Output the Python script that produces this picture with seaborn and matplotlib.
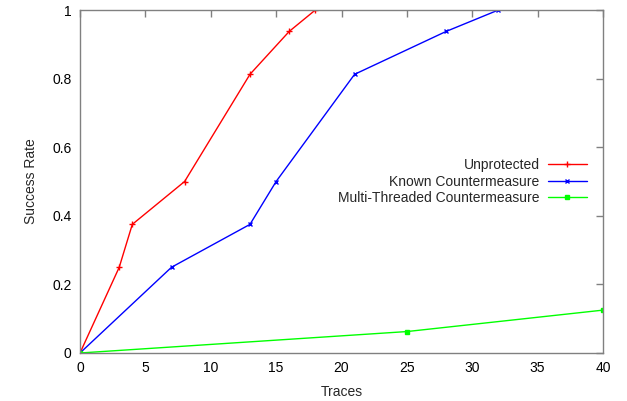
import numpy as np
import pandas as pd
import matplotlib
matplotlib.use("Agg")
import matplotlib.pyplot as plt
import seaborn as sns

# Data
unprot_x = [0, 3, 4, 8, 13, 16, 18]
unprot_y = [0, 0.25, 0.375, 0.5, 0.8125, 0.9375, 1.0]
known_x = [0, 7, 13, 15, 21, 28, 32]
known_y = [0, 0.25, 0.375, 0.5, 0.8125, 0.9375, 1.0]
multi_x = [0, 25, 40]
multi_y = [0, 0.0625, 0.125]
series_names = ["Unprotected", "Known Countermeasure", "Multi-Threaded Countermeasure"]
x_ticks = [0, 5, 10, 15, 20, 25, 30, 35, 40]
y_ticks = [0, 0.2, 0.4, 0.6, 0.8, 1.0]
y_tick_labels = ["0", "0.2", "0.4", "0.6", "0.8", "1"]

sns.set_style("white")
plt.rcParams["font.family"] = ["Liberation Sans", "DejaVu Sans"]

df = pd.concat([
    pd.DataFrame({"Traces": unprot_x, "Success Rate": unprot_y, "series": series_names[0]}),
    pd.DataFrame({"Traces": known_x, "Success Rate": known_y, "series": series_names[1]}),
    pd.DataFrame({"Traces": multi_x, "Success Rate": multi_y, "series": series_names[2]}),
])

colors = {series_names[0]: "#ff0000", series_names[1]: "#0000ff", series_names[2]: "#00ff00"}
markers = {series_names[0]: "+", series_names[1]: "x", series_names[2]: "s"}
msizes = {series_names[0]: 4, series_names[1]: 3.5, series_names[2]: 2.5}

fig = plt.figure(figsize=(6.27, 4.01), dpi=100)
ax = fig.add_axes([80 / 627, 48 / 401, 523 / 627, 343 / 401])

for name in series_names:
    sub = df[df["series"] == name]
    sns.lineplot(data=sub, x="Traces", y="Success Rate", ax=ax, color=colors[name],
                 marker=markers[name], markersize=msizes[name], linewidth=1,
                 markeredgewidth=1, markeredgecolor=colors[name], label=name,
                 estimator=None, sort=False)

ax.set_xlim(0, 40)
ax.set_ylim(0, 1)
ax.set_xticks(x_ticks)
ax.set_xticklabels([str(t) for t in x_ticks])
ax.set_yticks(y_ticks)
ax.set_yticklabels(y_tick_labels)
ax.tick_params(direction="in", length=5, width=1, color="#808080", labelsize=10,
               top=True, right=True, labelcolor="black", pad=6)
for s in ax.spines.values():
    s.set_color("#808080")
    s.set_linewidth(1)
ax.set_xlabel("Traces", fontsize=10, labelpad=7)
ax.set_ylabel("Success Rate", fontsize=10, labelpad=10)

leg = ax.legend(loc="center right", bbox_to_anchor=(0.969, 0.5), frameon=False,
                markerfirst=False, fontsize=10, handlelength=2.8, handletextpad=0.6,
                labelspacing=0.2, borderpad=0, borderaxespad=0)

fig.savefig("out.png", dpi=100)
